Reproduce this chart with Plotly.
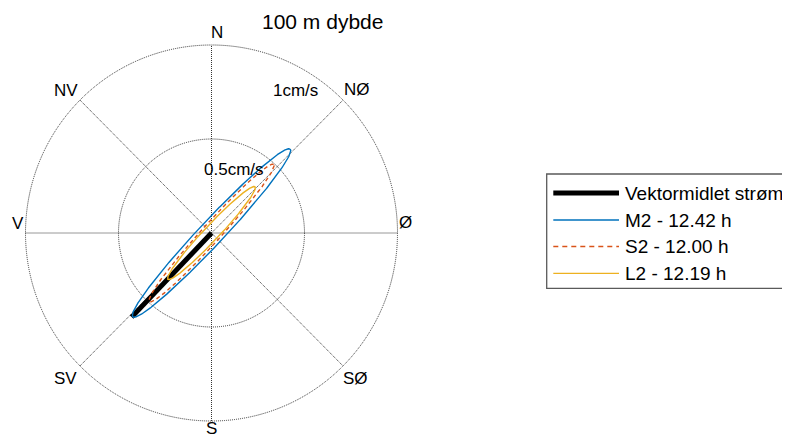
import numpy as np
import plotly.graph_objects as go

# ---------------- data ----------------
title_text = "100 m dybde"
direction_labels = ["N", "NØ", "Ø", "SØ", "S", "SV", "V", "NV"]
ring_values = [0.5, 1.0]
ring_labels = ["0.5cm/s", "1cm/s"]

mean_label = "Vektormidlet strøm"
mean_speed = 0.62          # cm/s
mean_direction = 223.8     # degrees, compass (towards)

constituents = ["M2 - 12.42 h", "S2 - 12.00 h", "L2 - 12.19 h"]
semi_major = [0.615, 0.495, 0.34]      # cm/s
semi_minor = [0.065, 0.05, 0.04]       # cm/s
inclination = [46.5, 47.5, 46.4]       # degrees counter-clockwise from east

# ---------------- styles ----------------
colors = ["#0072BD", "#D95319", "#EDB120"]
dashes = ["solid", "4px,3px", "solid"]
FONT = "Arial, Liberation Sans, sans-serif"
OFF = 8                     # page body margin
W, H = 790 - OFF, 439 - OFF
CX, CY = 211.5 - OFF, 233.0 - OFF   # pixel centre of the polar grid (figure coords)
SX, SY = 186.0, 188.0      # pixels per cm/s
grid_col = "#333333"
grid_dash = "1px,1px"


def px2p(px, py):
    """reference-window pixel -> paper coordinates"""
    return (px - OFF) / W, 1 - (py - OFF) / H


fig = go.Figure()

# mean vector
mx = mean_speed * np.sin(np.radians(mean_direction))
my = mean_speed * np.cos(np.radians(mean_direction))
fig.add_trace(go.Scatter(x=[0, mx], y=[0, my], mode="lines",
                         line=dict(color="black", width=5), name=mean_label,
                         showlegend=False, hoverinfo="skip"))

# tidal ellipses
t = np.linspace(0, 2 * np.pi, 721)
for name, a, b, inc, c, d in zip(constituents, semi_major, semi_minor,
                                 inclination, colors, dashes):
    phi = np.radians(inc)
    u = a * np.cos(t)
    v = b * np.sin(t)
    x = u * np.cos(phi) - v * np.sin(phi)
    y = u * np.sin(phi) + v * np.cos(phi)
    fig.add_trace(go.Scatter(x=x, y=y, mode="lines",
                             line=dict(color=c, width=1.4, dash=d),
                             name=name, showlegend=False, hoverinfo="skip"))

shapes = []
# grid circles
for rv in ring_values:
    shapes.append(dict(type="circle", xref="x", yref="y", x0=-rv, x1=rv,
                       y0=-rv, y1=rv, line=dict(color=grid_col, width=1, dash=grid_dash),
                       layer="below"))
# spokes
rmax = max(ring_values)
for ang in [0, 45, 90, 135]:
    s, c = np.sin(np.radians(ang)), np.cos(np.radians(ang))
    shapes.append(dict(type="line", xref="x", yref="y", x0=-rmax * s, y0=-rmax * c,
                       x1=rmax * s, y1=rmax * c,
                       line=dict(color=grid_col, width=1, dash=grid_dash), layer="below"))

annotations = []
# compass labels (pixel centres in the reference window)
dir_px = [(217, 33), (356.7, 89.5), (405, 222.7), (355, 378),
          (211.7, None), (65, 378), (18, 223), (66, 90)]
for lab, (px, py) in zip(direction_labels, dir_px):
    if py is None:   # bottom label: sit on the lower edge
        ax_, _ = px2p(px, 0)
        annotations.append(dict(x=ax_, y=0, xref="paper", yref="paper",
                                text=lab, showarrow=False, xanchor="center",
                                yanchor="bottom", borderpad=0,
                                font=dict(family=FONT, size=17, color="black")))
        continue
    ax_, ay_ = px2p(px, py)
    annotations.append(dict(x=ax_, y=ay_, xref="paper", yref="paper",
                            text=lab, showarrow=False, xanchor="center", yanchor="middle",
                            font=dict(family=FONT, size=17, color="black")))
# ring labels
ring_px = [(234, 169.3), (295, 90.7)]
for lab, (px, py) in zip(ring_labels, ring_px):
    ax_, ay_ = px2p(px, py)
    annotations.append(dict(x=ax_, y=ay_, xref="paper", yref="paper",
                            text=lab, showarrow=False, xanchor="center", yanchor="middle",
                            font=dict(family=FONT, size=17, color="black")))
# title
tx_, ty_ = px2p(322.5, 21.7)
annotations.append(dict(x=tx_, y=ty_, xref="paper", yref="paper",
                        text=title_text, showarrow=False, xanchor="center", yanchor="middle",
                        font=dict(family=FONT, size=21, color="black")))

# custom legend
x0, y0 = px2p(546.7, 174)
x1, y1 = px2p(800, 288.3)
shapes.append(dict(type="rect", xref="paper", yref="paper", x0=x0, x1=x1, y0=y1, y1=y0,
                   line=dict(color="#5a5a5a", width=1.3), fillcolor="white", layer="above"))
leg_names = [mean_label] + constituents
leg_cols = ["black"] + colors
leg_dash = ["solid", "solid", "5px,4px", "solid"]
leg_w = [5, 1.3, 1.3, 1.3]
rows = [193, 220, 246.5, 273.3]
for nm, col, dsh, lw, ry in zip(leg_names, leg_cols, leg_dash, leg_w, rows):
    lx0, ly = px2p(553.3, ry)
    lx1, _ = px2p(619, ry)
    shapes.append(dict(type="line", xref="paper", yref="paper", x0=lx0, x1=lx1, y0=ly, y1=ly,
                       line=dict(color=col, width=lw, dash=dsh), layer="above"))
    tx, ty = px2p(623, ry)
    annotations.append(dict(x=tx, y=ty, xref="paper", yref="paper", text=nm,
                            showarrow=False, xanchor="left", yanchor="middle",
                            font=dict(family=FONT, size=19, color="black")))

fig.update_layout(
    width=W, height=H, margin=dict(l=0, r=0, t=0, b=0),
    paper_bgcolor="white", plot_bgcolor="white",
    xaxis=dict(range=[-CX / SX, (W - CX) / SX], visible=False, fixedrange=True,
               domain=[0, 1]),
    yaxis=dict(range=[-(H - CY) / SY, CY / SY], visible=False, fixedrange=True,
               domain=[0, 1]),
    shapes=shapes, annotations=annotations, showlegend=False,
)

fig.write_html("out.html")
